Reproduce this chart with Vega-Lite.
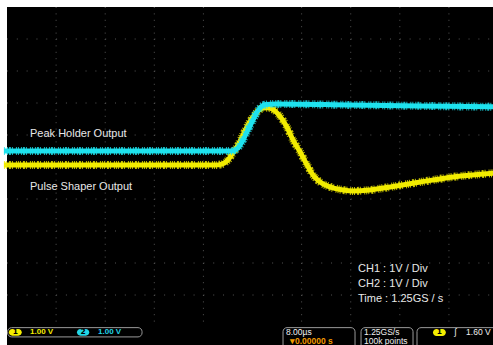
{
  "$schema": "https://vega.github.io/schema/vega-lite/v6.json",
  "width": 486,
  "height": 338,
  "autosize": "none",
  "padding": {"left": 7, "top": 7, "right": 0, "bottom": 0},
  "background": "white",
  "config": {
    "view": {"fill": "black", "stroke": null},
    "axis": {"disable": true},
    "legend": {"disable": true}
  },
  "datasets": {
    "gridX": [{"t": -32}, {"t": -24}, {"t": -16}, {"t": -8}, {"t": 8}, {"t": 16}, {"t": 24}, {"t": 32}],
    "gridY": [{"v": 4}, {"v": 3}, {"v": 2}, {"v": 1}, {"v": -1}, {"v": -2}, {"v": -3}, {"v": -4}],
    "ch1": [
      {"t": -40.5, "v": 0.06}, {"t": -20, "v": 0.06}, {"t": -6.1, "v": 0.06}, {"t": -5.0, "v": 0.09},
      {"t": -4.0, "v": 0.22}, {"t": -3.2, "v": 0.44}, {"t": -2.35, "v": 0.69}, {"t": -1.55, "v": 1.0},
      {"t": -0.75, "v": 1.31}, {"t": 0.08, "v": 1.56}, {"t": 0.9, "v": 1.75}, {"t": 1.7, "v": 1.84},
      {"t": 2.5, "v": 1.85}, {"t": 3.3, "v": 1.8}, {"t": 4.15, "v": 1.66}, {"t": 5.6, "v": 1.25},
      {"t": 6.6, "v": 0.84}, {"t": 7.75, "v": 0.47}, {"t": 8.9, "v": 0.06}, {"t": 9.85, "v": -0.25},
      {"t": 11.0, "v": -0.47}, {"t": 12.6, "v": -0.62}, {"t": 14.75, "v": -0.72}, {"t": 16.4, "v": -0.75},
      {"t": 19.1, "v": -0.72}, {"t": 21.9, "v": -0.64}, {"t": 27.3, "v": -0.47}, {"t": 32.7, "v": -0.31},
      {"t": 39.5, "v": -0.19}
    ],
    "ch2": [
      {"t": -40.5, "v": 0.5}, {"t": -20, "v": 0.5}, {"t": -3.4, "v": 0.5}, {"t": -2.4, "v": 0.59},
      {"t": -1.55, "v": 0.84}, {"t": -0.75, "v": 1.16}, {"t": 0.08, "v": 1.47}, {"t": 0.73, "v": 1.72},
      {"t": 1.4, "v": 1.88}, {"t": 2.2, "v": 1.95}, {"t": 3.7, "v": 1.97}, {"t": 15.9, "v": 1.94},
      {"t": 27.3, "v": 1.91}, {"t": 39.5, "v": 1.88}
    ],
    "labels": [
      {"text": "Peak Holder Output", "t": -36.25, "v": 0.94},
      {"text": "Pulse Shaper Output", "t": -36.25, "v": -0.73},
      {"text": "CH1 : 1V / Div", "t": 17.19, "v": -3.28},
      {"text": "CH2 : 1V / Div", "t": 17.19, "v": -3.75},
      {"text": "Time : 1.25GS / s", "t": 17.19, "v": -4.23}
    ],
    "boxes": [
      {"t": -39.9, "t2": -18.0, "v": -5.02, "v2": -5.31},
      {"t": 4.97, "t2": 16.7, "v": -5.02, "v2": -5.8},
      {"t": 17.68, "t2": 26.15, "v": -5.02, "v2": -5.8},
      {"t": 26.8, "t2": 41, "v": -5.02, "v2": -5.8}
    ],
    "badges": [
      {"n": "1", "t": -39.7, "t2": -37.6, "v": -5.06, "v2": -5.27, "tc": -38.65, "vc": -5.165},
      {"n": "2", "t": -28.6, "t2": -26.6, "v": -5.06, "v2": -5.27, "tc": -27.6, "vc": -5.165},
      {"n": "1", "t": 29.4, "t2": 31.5, "v": -5.06, "v2": -5.28, "tc": 30.45, "vc": -5.17}
    ],
    "statusYellow": [{"text": "1.00 V", "t": -36.25, "v": -5.17}],
    "statusCyan": [{"text": "1.00 V", "t": -25.17, "v": -5.17}],
    "statusWhite": [
      {"text": "8.00µs", "t": 5.46, "v": -5.15},
      {"text": "1.25GS/s", "t": 18.17, "v": -5.15},
      {"text": "100k points", "t": 18.17, "v": -5.44},
      {"text": "ʃ", "t": 32.9, "v": -5.17},
      {"text": "1.60 V", "t": 34.8, "v": -5.17}
    ],
    "statusOrange": [
      {"text": "▾", "t": 6.05, "v": -5.44},
      {"text": "0.00000 s", "t": 6.92, "v": -5.44}
    ]
  },
  "layer": [
    {
      "data": {"name": "gridX"},
      "mark": {"type": "rule", "color": "#555555", "strokeDash": [1, 5.4]},
      "encoding": {
        "x": {"field": "t", "type": "quantitative", "scale": {"domain": [-40, 39.18], "nice": false, "zero": false}},
        "y": {"datum": 5, "type": "quantitative", "scale": {"domain": [-5.5625, 5], "nice": false, "zero": false}},
        "y2": {"datum": -5}
      }
    },
    {
      "data": {"name": "gridY"},
      "mark": {"type": "rule", "color": "#555555", "strokeDash": [1, 8.82]},
      "encoding": {
        "y": {"field": "v", "type": "quantitative", "scale": {"domain": [-5.5625, 5], "nice": false, "zero": false}},
        "x": {"datum": -40, "type": "quantitative", "scale": {"domain": [-40, 39.18], "nice": false, "zero": false}},
        "x2": {"datum": 40}
      }
    },
    {
      "mark": {"type": "rule", "color": "#383838"},
      "encoding": {
        "x": {"datum": 0, "type": "quantitative", "scale": {"domain": [-40, 39.18], "nice": false, "zero": false}},
        "y": {"datum": 5, "type": "quantitative", "scale": {"domain": [-5.5625, 5], "nice": false, "zero": false}},
        "y2": {"datum": -5}
      }
    },
    {
      "mark": {"type": "rule", "color": "#5e5e5e", "strokeWidth": 5, "strokeDash": [1, 5.4]},
      "encoding": {
        "x": {"datum": 0, "type": "quantitative", "scale": {"domain": [-40, 39.18], "nice": false, "zero": false}},
        "y": {"datum": 5, "type": "quantitative", "scale": {"domain": [-5.5625, 5], "nice": false, "zero": false}},
        "y2": {"datum": -5}
      }
    },
    {
      "mark": {"type": "rule", "color": "#383838"},
      "encoding": {
        "y": {"datum": 0, "type": "quantitative", "scale": {"domain": [-5.5625, 5], "nice": false, "zero": false}},
        "x": {"datum": -40, "type": "quantitative", "scale": {"domain": [-40, 39.18], "nice": false, "zero": false}},
        "x2": {"datum": 40}
      }
    },
    {
      "mark": {"type": "rule", "color": "#5e5e5e", "strokeWidth": 5, "strokeDash": [1, 8.82]},
      "encoding": {
        "y": {"datum": 0, "type": "quantitative", "scale": {"domain": [-5.5625, 5], "nice": false, "zero": false}},
        "x": {"datum": -40, "type": "quantitative", "scale": {"domain": [-40, 39.18], "nice": false, "zero": false}},
        "x2": {"datum": 40}
      }
    },
    {
      "mark": {"type": "rule", "color": "#6a6a6a", "strokeWidth": 3, "strokeDash": [1, 8.82]},
      "encoding": {
        "y": {"datum": 4.953, "type": "quantitative", "scale": {"domain": [-5.5625, 5], "nice": false, "zero": false}},
        "x": {"datum": -40, "type": "quantitative", "scale": {"domain": [-40, 39.18], "nice": false, "zero": false}},
        "x2": {"datum": 40}
      }
    },
    {
      "mark": {"type": "rule", "color": "#6a6a6a", "strokeWidth": 3, "strokeDash": [1, 5.4]},
      "encoding": {
        "x": {"datum": -39.75, "type": "quantitative", "scale": {"domain": [-40, 39.18], "nice": false, "zero": false}},
        "y": {"datum": 5, "type": "quantitative", "scale": {"domain": [-5.5625, 5], "nice": false, "zero": false}},
        "y2": {"datum": -5}
      }
    },
    {
      "mark": {"type": "rule", "color": "#8593aa", "strokeWidth": 1.5},
      "encoding": {
        "y": {"datum": 5, "type": "quantitative", "scale": {"domain": [-5.5625, 5], "nice": false, "zero": false}},
        "x": {"datum": -40, "type": "quantitative", "scale": {"domain": [-40, 39.18], "nice": false, "zero": false}},
        "x2": {"datum": 40}
      }
    },
    {
      "mark": {"type": "rule", "color": "#7c8494", "strokeWidth": 1.5},
      "encoding": {
        "x": {"datum": -40, "type": "quantitative", "scale": {"domain": [-40, 39.18], "nice": false, "zero": false}},
        "y": {"datum": 5, "type": "quantitative", "scale": {"domain": [-5.5625, 5], "nice": false, "zero": false}},
        "y2": {"datum": -5}
      }
    },
    {
      "data": {"name": "ch1"},
      "mark": {"type": "line", "color": "#f2ec00", "strokeWidth": 8, "interpolate": "monotone", "strokeDash": [1, 1, 1, 2, 2, 1, 1, 3, 1, 1], "opacity": 0.8},
      "encoding": {
        "x": {"field": "t", "type": "quantitative", "scale": {"domain": [-40, 39.18], "nice": false, "zero": false}},
        "y": {"field": "v", "type": "quantitative", "scale": {"domain": [-5.5625, 5], "nice": false, "zero": false}}
      }
    },
    {
      "data": {"name": "ch1"},
      "mark": {"type": "line", "color": "#f2ec00", "strokeWidth": 5, "interpolate": "monotone"},
      "encoding": {
        "x": {"field": "t", "type": "quantitative", "scale": {"domain": [-40, 39.18], "nice": false, "zero": false}},
        "y": {"field": "v", "type": "quantitative", "scale": {"domain": [-5.5625, 5], "nice": false, "zero": false}}
      }
    },
    {
      "data": {"name": "ch2"},
      "mark": {"type": "line", "color": "#1ee2ee", "strokeWidth": 8, "interpolate": "monotone", "strokeDash": [1, 2, 1, 1, 2, 1, 1, 3, 1, 1], "opacity": 0.8},
      "encoding": {
        "x": {"field": "t", "type": "quantitative", "scale": {"domain": [-40, 39.18], "nice": false, "zero": false}},
        "y": {"field": "v", "type": "quantitative", "scale": {"domain": [-5.5625, 5], "nice": false, "zero": false}}
      }
    },
    {
      "data": {"name": "ch2"},
      "mark": {"type": "line", "color": "#1ee2ee", "strokeWidth": 5, "interpolate": "monotone"},
      "encoding": {
        "x": {"field": "t", "type": "quantitative", "scale": {"domain": [-40, 39.18], "nice": false, "zero": false}},
        "y": {"field": "v", "type": "quantitative", "scale": {"domain": [-5.5625, 5], "nice": false, "zero": false}}
      }
    },
    {
      "data": {"name": "labels"},
      "mark": {"type": "text", "color": "#e8e8e8", "font": "Liberation Sans", "fontSize": 11, "align": "left", "baseline": "alphabetic"},
      "encoding": {
        "x": {"field": "t", "type": "quantitative", "scale": {"domain": [-40, 39.18], "nice": false, "zero": false}},
        "y": {"field": "v", "type": "quantitative", "scale": {"domain": [-5.5625, 5], "nice": false, "zero": false}},
        "text": {"field": "text"}
      }
    },
    {
      "mark": {"type": "point", "shape": "triangle-down", "filled": true, "color": "#f29a00", "size": 14, "opacity": 1},
      "encoding": {
        "x": {"datum": 0, "type": "quantitative", "scale": {"domain": [-40, 39.18], "nice": false, "zero": false}},
        "y": {"datum": 4.96, "type": "quantitative", "scale": {"domain": [-5.5625, 5], "nice": false, "zero": false}}
      }
    },
    {
      "mark": {"type": "rect", "color": "#f29a00", "cornerRadius": 1},
      "encoding": {
        "x": {"datum": -0.6, "type": "quantitative", "scale": {"domain": [-40, 39.18], "nice": false, "zero": false}},
        "x2": {"datum": 0.6},
        "y": {"datum": 4.9, "type": "quantitative", "scale": {"domain": [-5.5625, 5], "nice": false, "zero": false}},
        "y2": {"datum": 4.68}
      }
    },
    {
      "mark": {"type": "text", "text": "T", "color": "#000000", "font": "DejaVu Sans", "fontWeight": "bold", "fontSize": 7, "align": "center", "baseline": "middle"},
      "encoding": {
        "x": {"datum": 0, "type": "quantitative", "scale": {"domain": [-40, 39.18], "nice": false, "zero": false}},
        "y": {"datum": 4.79, "type": "quantitative", "scale": {"domain": [-5.5625, 5], "nice": false, "zero": false}}
      }
    },
    {
      "mark": {"type": "rect", "color": "#3b4a92"},
      "encoding": {
        "x": {"datum": -40.5, "type": "quantitative", "scale": {"domain": [-40, 39.18], "nice": false, "zero": false}},
        "x2": {"datum": 41},
        "y": {"datum": -5.0, "type": "quantitative", "scale": {"domain": [-5.5625, 5], "nice": false, "zero": false}},
        "y2": {"datum": -5.8}
      }
    },
    {
      "data": {"name": "boxes"},
      "mark": {"type": "rect", "fill": "#000000", "stroke": "#9a9a9a", "strokeWidth": 1, "cornerRadius": 4},
      "encoding": {
        "x": {"field": "t", "type": "quantitative", "scale": {"domain": [-40, 39.18], "nice": false, "zero": false}},
        "x2": {"field": "t2"},
        "y": {"field": "v", "type": "quantitative", "scale": {"domain": [-5.5625, 5], "nice": false, "zero": false}},
        "y2": {"field": "v2"}
      }
    },
    {
      "data": {"name": "badges"},
      "mark": {"type": "rect", "cornerRadius": 3.5},
      "encoding": {
        "x": {"field": "t", "type": "quantitative", "scale": {"domain": [-40, 39.18], "nice": false, "zero": false}},
        "x2": {"field": "t2"},
        "y": {"field": "v", "type": "quantitative", "scale": {"domain": [-5.5625, 5], "nice": false, "zero": false}},
        "y2": {"field": "v2"},
        "color": {"field": "n", "type": "nominal", "scale": {"domain": ["1", "2"], "range": ["#f5ee00", "#22d6e6"]}}
      }
    },
    {
      "data": {"name": "badges"},
      "mark": {"type": "text", "color": "#000000", "font": "DejaVu Sans", "fontWeight": "bold", "fontSize": 7.5, "align": "center", "baseline": "middle"},
      "encoding": {
        "x": {"field": "tc", "type": "quantitative", "scale": {"domain": [-40, 39.18], "nice": false, "zero": false}},
        "y": {"field": "vc", "type": "quantitative", "scale": {"domain": [-5.5625, 5], "nice": false, "zero": false}},
        "text": {"field": "n"}
      }
    },
    {
      "data": {"name": "statusYellow"},
      "mark": {"type": "text", "color": "#f5ee00", "font": "Liberation Sans", "fontWeight": "bold", "fontSize": 8, "align": "left", "baseline": "middle"},
      "encoding": {
        "x": {"field": "t", "type": "quantitative", "scale": {"domain": [-40, 39.18], "nice": false, "zero": false}},
        "y": {"field": "v", "type": "quantitative", "scale": {"domain": [-5.5625, 5], "nice": false, "zero": false}},
        "text": {"field": "text"}
      }
    },
    {
      "data": {"name": "statusCyan"},
      "mark": {"type": "text", "color": "#22d6e6", "font": "Liberation Sans", "fontWeight": "bold", "fontSize": 8, "align": "left", "baseline": "middle"},
      "encoding": {
        "x": {"field": "t", "type": "quantitative", "scale": {"domain": [-40, 39.18], "nice": false, "zero": false}},
        "y": {"field": "v", "type": "quantitative", "scale": {"domain": [-5.5625, 5], "nice": false, "zero": false}},
        "text": {"field": "text"}
      }
    },
    {
      "data": {"name": "statusWhite"},
      "mark": {"type": "text", "color": "#f0f0f0", "font": "Liberation Sans", "fontSize": 8.5, "align": "left", "baseline": "middle"},
      "encoding": {
        "x": {"field": "t", "type": "quantitative", "scale": {"domain": [-40, 39.18], "nice": false, "zero": false}},
        "y": {"field": "v", "type": "quantitative", "scale": {"domain": [-5.5625, 5], "nice": false, "zero": false}},
        "text": {"field": "text"}
      }
    },
    {
      "mark": {"type": "rect", "color": "#f29a00"},
      "encoding": {
        "x": {"datum": 5.46, "type": "quantitative", "scale": {"domain": [-40, 39.18], "nice": false, "zero": false}},
        "x2": {"datum": 5.95},
        "y": {"datum": -5.33, "type": "quantitative", "scale": {"domain": [-5.5625, 5], "nice": false, "zero": false}},
        "y2": {"datum": -5.54}
      }
    },
    {
      "data": {"name": "statusOrange"},
      "mark": {"type": "text", "color": "#f29a00", "font": "Liberation Sans", "fontWeight": "bold", "fontSize": 8.5, "align": "left", "baseline": "middle"},
      "encoding": {
        "x": {"field": "t", "type": "quantitative", "scale": {"domain": [-40, 39.18], "nice": false, "zero": false}},
        "y": {"field": "v", "type": "quantitative", "scale": {"domain": [-5.5625, 5], "nice": false, "zero": false}},
        "text": {"field": "text"}
      }
    }
  ]
}
